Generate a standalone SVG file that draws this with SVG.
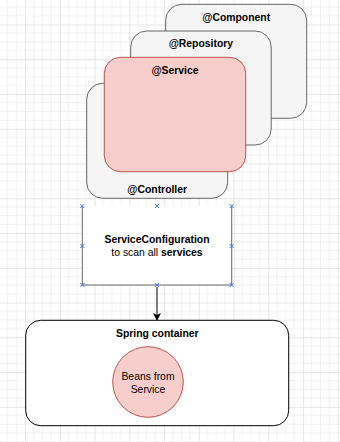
<svg xmlns="http://www.w3.org/2000/svg" width="340" height="442" viewBox="0 0 340 442">
<defs>
<pattern id="grid" width="34.76" height="34.76" patternUnits="userSpaceOnUse" x="25" y="24.5">
<path d="M8.69,0V34.76M17.38,0V34.76M26.07,0V34.76M0,8.69H34.76M0,17.38H34.76M0,26.07H34.76" stroke="#f1f1f1" stroke-width="1" fill="none"/>
<path d="M0.5,0V34.76M0,0.5H34.76" stroke="#e6e6e6" stroke-width="1" fill="none"/>
</pattern>
<marker id="arrow" markerWidth="8" markerHeight="10" refX="7" refY="4" orient="auto" markerUnits="userSpaceOnUse" viewBox="0 0 8 8">
<path d="M0,0 L8,4 L0,8 L2,4 Z" fill="#000"/>
</marker>
</defs>
<style>
.gray{fill:#f5f5f5;stroke:#666;stroke-width:1}
.red{fill:#f8cecc;stroke:#b85450;stroke-width:1}
text{font-family:"Liberation Sans",Arial,sans-serif;font-size:10.4px;fill:#000;text-anchor:middle}
.b{font-weight:bold}
.h{stroke:#3a78f2;stroke-width:1;fill:none}
</style>
<rect width="340" height="442" fill="#fff"/>
<rect width="340" height="442" fill="url(#grid)"/>
<g id="component">
<rect class="gray" x="165.7" y="4.3" width="141" height="114" rx="16" ry="16"/>
<text class="b" x="236.2" y="21">@Component</text>
</g>
<g id="repository">
<rect class="gray" x="130.7" y="31" width="140.5" height="114" rx="16" ry="16"/>
<text class="b" x="200.9" y="47.4">@Repository</text>
</g>
<g id="controller">
<rect class="gray" x="86.7" y="83.3" width="141" height="115" rx="16" ry="16"/>
<text class="b" x="157.2" y="192.7">@Controller</text>
</g>
<g id="service">
<rect class="red" x="104.3" y="57.3" width="141.4" height="114.4" rx="16" ry="16"/>
<text class="b" x="175" y="73.7">@Service</text>
</g>
<g id="serviceConfiguration">
<rect x="82.3" y="206" width="149.4" height="79" fill="#fff"/>
<path d="M82.3,206V285H231.7V206" fill="none" stroke="#666" stroke-width="1"/>
<text class="b" x="157" y="243">ServiceConfiguration</text>
<text x="157" y="256">to scan all <tspan class="b">services</tspan></text>
<path class="h" d="M80.3,204l4,4m0,-4l-4,4M155,204l4,4m0,-4l-4,4M229.7,204l4,4m0,-4l-4,4M80.3,244l4,4m0,-4l-4,4M229.7,244l4,4m0,-4l-4,4M80.3,283l4,4m0,-4l-4,4M155,283l4,4m0,-4l-4,4M229.7,283l4,4m0,-4l-4,4"/>
</g>
<g id="connectors">
<line x1="157" y1="287" x2="157" y2="320" stroke="#000" stroke-width="1" marker-end="url(#arrow)"/>
</g>
<g id="springContainer">
<rect x="25.7" y="320.3" width="263" height="105.4" rx="15" ry="15" fill="#fff" stroke="#000" stroke-width="1"/>
<text class="b" x="157.3" y="337">Spring container</text>
</g>
<g id="beans">
<circle class="red" cx="148" cy="382" r="35.3"/>
<text x="148" y="379.7">Beans from</text>
<text x="148" y="392.7">Service</text>
</g>
</svg>
